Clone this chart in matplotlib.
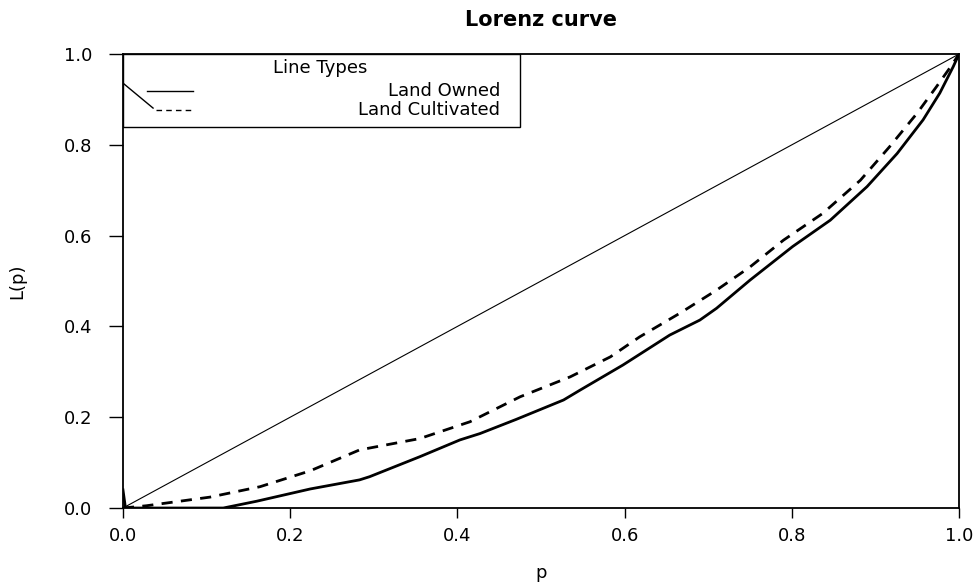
import matplotlib

matplotlib.use("Agg")
import matplotlib.pyplot as plt  # noqa: E402
from matplotlib.lines import Line2D  # noqa: E402

# Lorenz curves
owned_p = [0.0, 0.003, 0.12, 0.16, 0.224, 0.283, 0.295, 0.355, 0.403, 0.427,
           0.47, 0.527, 0.547, 0.598, 0.654, 0.69, 0.71, 0.75, 0.801, 0.846,
           0.89, 0.926, 0.957, 0.977, 0.993, 1.0]
owned_L = [0.04, 0.0, 0.0, 0.015, 0.042, 0.062, 0.069, 0.113, 0.150, 0.164,
           0.195, 0.238, 0.26, 0.315, 0.381, 0.414, 0.44, 0.502, 0.576, 0.634,
           0.708, 0.781, 0.855, 0.914, 0.972, 1.0]

cult_p = [0.0, 0.028, 0.104, 0.164, 0.224, 0.283, 0.355, 0.415, 0.475, 0.535,
          0.583, 0.618, 0.666, 0.71, 0.75, 0.79, 0.837, 0.882, 0.917, 0.95,
          0.973, 0.99, 1.0]
cult_L = [0.0, 0.005, 0.024, 0.047, 0.082, 0.128, 0.153, 0.19, 0.245, 0.289,
          0.333, 0.377, 0.429, 0.48, 0.531, 0.59, 0.649, 0.722, 0.796, 0.87,
          0.928, 0.972, 1.0]

equality = [0.0, 1.0]
ticks = [0.0, 0.2, 0.4, 0.6, 0.8, 1.0]
tick_labels = ["0.0", "0.2", "0.4", "0.6", "0.8", "1.0"]
series_names = ["Land Owned", "Land Cultivated"]

plt.rcParams["font.family"] = ["DejaVu Sans"]

fig = plt.figure(figsize=(9.79, 5.83), dpi=100)
ax = fig.add_axes([0.1256, 0.1286, 0.854, 0.7787])

ax.plot(equality, equality, color="black", lw=0.8)
ax.plot(owned_p, owned_L, color="black", lw=2.0, solid_joinstyle="round")
ax.plot(cult_p, cult_L, color="black", lw=2.0, ls=(0, (4, 3)))

ax.set_xlim(0, 1)
ax.set_ylim(0, 1)
ax.set_xticks(ticks, tick_labels)
ax.set_yticks(ticks, tick_labels)
ax.tick_params(axis="y", direction="out", length=10, width=1, pad=12, labelsize=13)
ax.tick_params(axis="x", direction="out", length=7, width=1, pad=7, labelsize=13)
for s in ax.spines.values():
    s.set_linewidth(1.3)

ax.text(0.5, 1.075, "Lorenz curve", transform=ax.transAxes, ha="center",
        va="center", fontsize=15, fontweight="bold")
ax.set_xlabel("p", fontsize=13, va="center")
ax.xaxis.set_label_coords(0.5, -0.143)
ax.set_ylabel("L(p)", fontsize=13, va="center")
ax.yaxis.set_label_coords(-0.126, 0.5)

# legend box drawn like the original device legend
tr = ax.transAxes
ax.add_patch(plt.Rectangle((0, 0.839), 0.475, 0.161, transform=tr,
                           fill=False, ec="black", lw=1.0))
ax.text(0.236, 0.969, "Line Types", transform=tr, ha="center", va="center",
        fontsize=13)
ax.add_line(Line2D([0.029, 0.084], [0.9185, 0.9185], transform=tr,
                   color="black", lw=1.0))
ax.add_line(Line2D([0.040, 0.084], [0.877, 0.877], transform=tr,
                   color="black", lw=1.0, ls=(0, (4, 3))))
ax.add_line(Line2D([0.0, 0.036], [0.936, 0.881], transform=tr,
                   color="black", lw=1.0))
ax.text(0.451, 0.9185, series_names[0], transform=tr, ha="right",
        va="center", fontsize=13)
ax.text(0.451, 0.877, series_names[1], transform=tr, ha="right",
        va="center", fontsize=13)

fig.savefig("out.png", dpi=100)
